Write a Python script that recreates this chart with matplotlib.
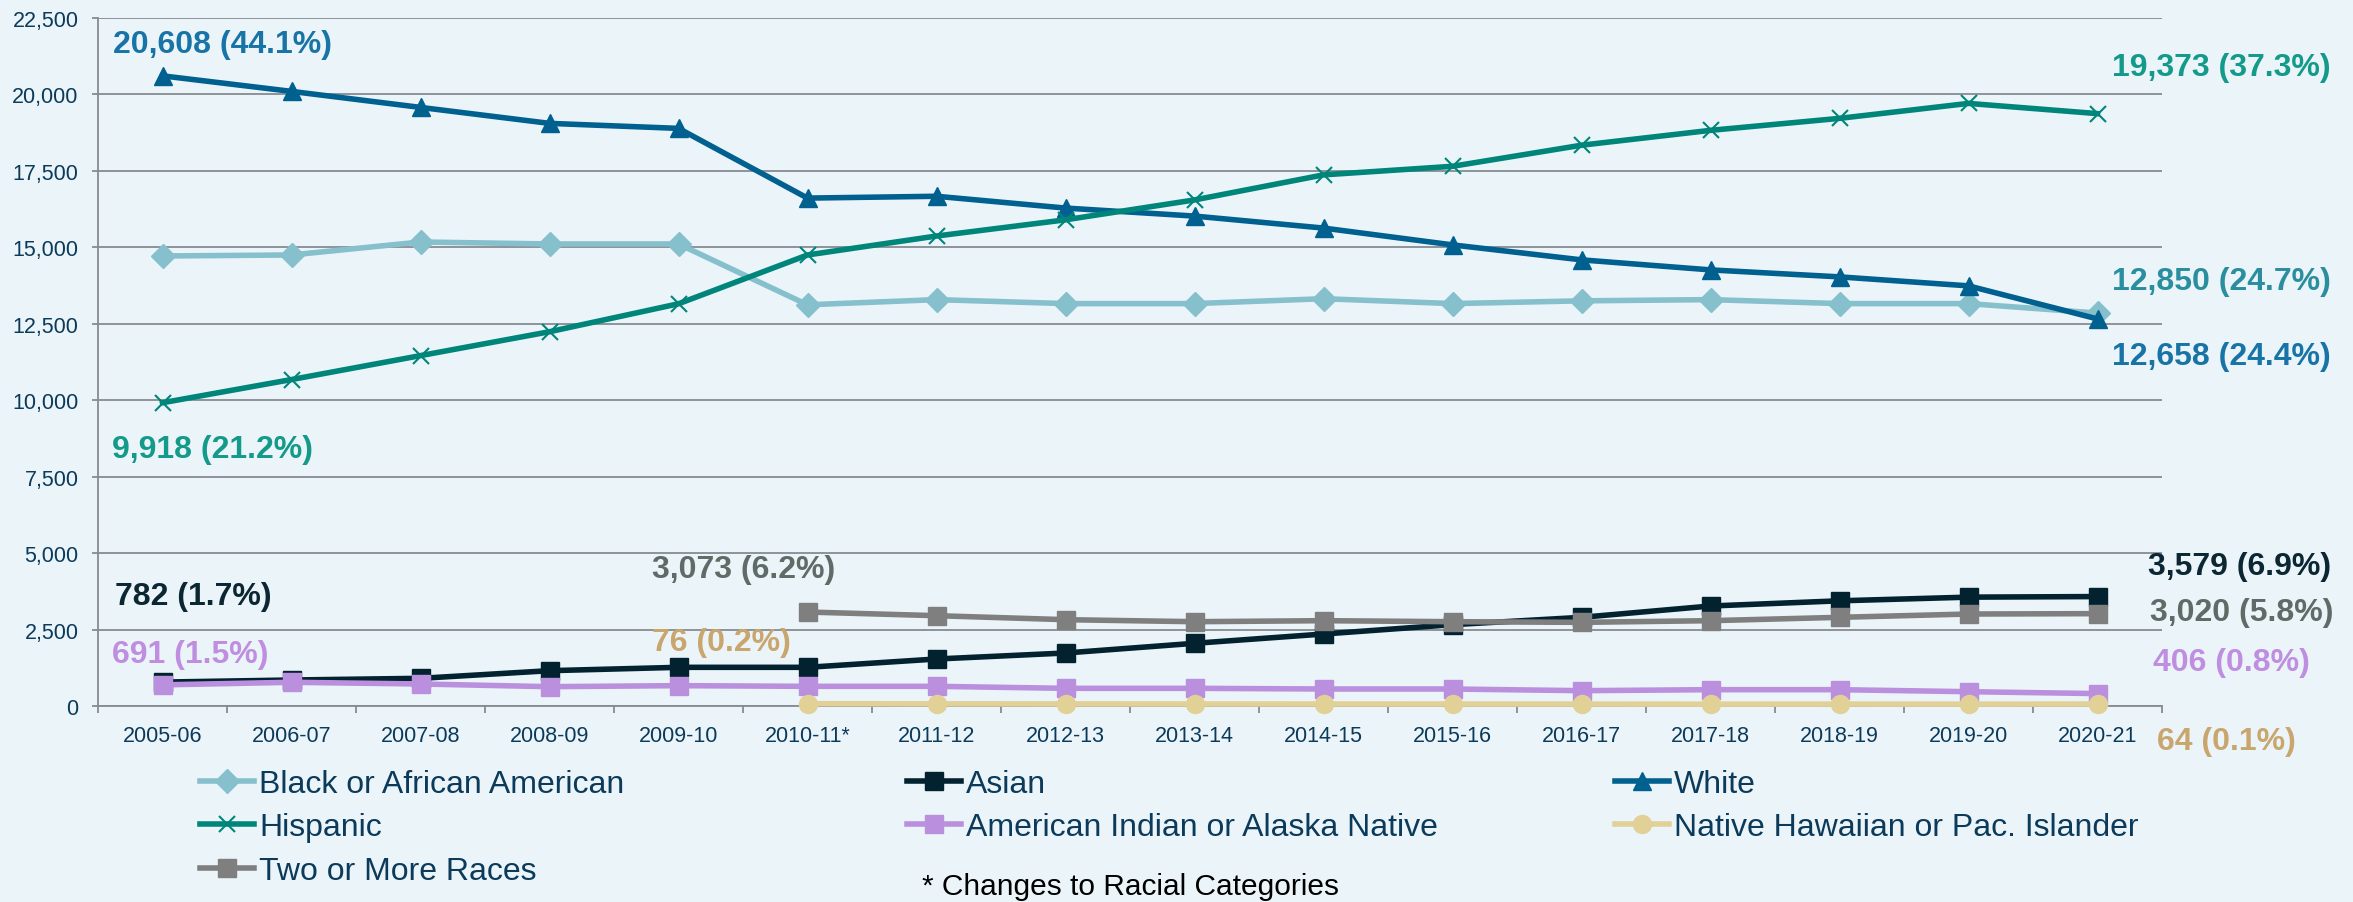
import matplotlib
matplotlib.use("Agg")
import matplotlib.pyplot as plt
from matplotlib.ticker import FixedLocator, FuncFormatter
import numpy as np

plt.rcParams['font.family'] = ['Liberation Sans', 'DejaVu Sans']

years = ['2005-06', '2006-07', '2007-08', '2008-09', '2009-10', '2010-11*',
         '2011-12', '2012-13', '2013-14', '2014-15', '2015-16', '2016-17',
         '2017-18', '2018-19', '2019-20', '2020-21']

black = [14717, 14750, 15175, 15110, 15110, 13120, 13290, 13160, 13160, 13320,
         13160, 13250, 13290, 13160, 13160, 12850]
asian = [782, 850, 905, 1155, 1265, 1265, 1537, 1733, 2050, 2354, 2660, 2900,
         3270, 3440, 3560, 3579]
white = [20608, 20100, 19576, 19054, 18890, 16610, 16670, 16284, 16022, 15630,
         15080, 14590, 14262, 14034, 13740, 12658]
hispanic = [9918, 10676, 11459, 12240, 13154, 14750, 15370, 15900, 16550, 17370,
            17650, 18340, 18826, 19218, 19707, 19373]
am_indian = [691, 775, 720, 632, 665, 643, 643, 578, 578, 556, 556, 501, 534,
             534, 468, 406]
nh_pi = [np.nan] * 5 + [76, 70, 68, 66, 65, 64, 63, 60, 62, 61, 64]
two_more = [np.nan] * 5 + [3073, 2954, 2823, 2757, 2790, 2757, 2736, 2790, 2900,
                           3008, 3020]

W, H = 2353, 903
bg = '#EBF5F9'
grid_c = '#878B93'
navy = '#0B3A5A'

fig = plt.figure(figsize=(W / 100, H / 100), dpi=100, facecolor=bg)
ax = fig.add_axes([98 / W, 1 - 707 / H, (2162 - 98) / W, (707 - 19) / H])
ax.set_facecolor(bg)

x = np.arange(len(years))
lw = 4.0
series = [
    ('Black or African American', black, '#86C0CC', 'D', 12, {}),
    ('Asian', asian, '#03222F', 's', 13, {}),
    ('White', white, '#00608F', '^', 13, {}),
    ('Hispanic', hispanic, '#00857A', 'x', 12, {'markeredgewidth': 1.5}),
    ('American Indian or Alaska Native', am_indian, '#BA90DE', 's', 13, {}),
    ('Native Hawaiian or Pac. Islander', nh_pi, '#E2D196', 'o', 13, {}),
    ('Two or More Races', two_more, '#7F7F7F', 's', 13, {}),
]
handles = {}
for name, vals, col, mk, ms, extra in series:
    h, = ax.plot(x, vals, color=col, lw=lw, marker=mk, markersize=ms,
                 markerfacecolor=col, markeredgecolor=col, label=name,
                 clip_on=False, zorder=3, **extra)
    handles[name] = h

ax.set_xlim(-0.5, len(years) - 0.5)
ax.set_ylim(0, 22500)
ax.set_yticks(np.arange(0, 22501, 2500))
ax.yaxis.set_major_formatter(FuncFormatter(lambda v, p: f'{int(v):,}'))
ax.set_xticks(x)
ax.set_xticklabels(years)
ax.xaxis.set_minor_locator(FixedLocator(np.arange(-0.5, len(years), 1)))
ax.tick_params(axis='x', which='major', length=0, pad=14, labelsize=15.5,
               labelcolor=navy)
ax.tick_params(axis='x', which='minor', length=5, width=1.3, color=grid_c)
ax.tick_params(axis='y', length=4, width=1.3, color=grid_c, pad=10,
               labelsize=15.5, labelcolor=navy)
ax.grid(axis='y', color=grid_c, lw=1.3, zorder=0)
ax.set_axisbelow(True)
for s in ['top', 'right']:
    ax.spines[s].set_visible(False)
for s in ['left', 'bottom']:
    ax.spines[s].set_color(grid_c)
    ax.spines[s].set_linewidth(1.3)

# value labels (figure pixel positions)
labels = [
    ('20,608 (44.1%)', 113, 45, '#1874A6'),
    ('9,918 (21.2%)', 112, 450, '#139A8A'),
    ('782 (1.7%)', 115, 597, '#0B2733'),
    ('691 (1.5%)', 112, 655, '#BF8EE0'),
    ('3,073 (6.2%)', 652, 570, '#5E6B66'),
    ('76 (0.2%)', 652, 643, '#C9A66E'),
    ('19,373 (37.3%)', 2112, 68, '#139A8A'),
    ('12,850 (24.7%)', 2112, 282, '#2A8E9E'),
    ('12,658 (24.4%)', 2112, 357, '#1874A6'),
    ('3,579 (6.9%)', 2148, 567, '#0B2733'),
    ('3,020 (5.8%)', 2150, 613, '#5E6B66'),
    ('406 (0.8%)', 2153, 663, '#BF8EE0'),
    ('64 (0.1%)', 2157, 742, '#C9A66E'),
]
for txt, px, py, col in labels:
    fig.text(px / W, 1 - py / H, txt, color=col, fontsize=23,
             fontweight='bold', ha='left', va='center')

# legend in three columns
cols = [
    (['Black or African American', 'Hispanic', 'Two or More Races'], 200),
    (['Asian', 'American Indian or Alaska Native'], 907),
    (['White', 'Native Hawaiian or Pac. Islander'], 1615),
]
for names, px in cols:
    leg = fig.legend([handles[n] for n in names], names, loc='upper left',
                     bbox_to_anchor=(px / W, 1 - 770 / H), frameon=False,
                     fontsize=23, handlelength=1.7, handletextpad=0.15,
                     labelspacing=0.42, borderpad=0, borderaxespad=0)
    for t in leg.get_texts():
        t.set_color(navy)

fig.text(922 / W, 1 - 887 / H, '* Changes to Racial Categories',
         fontsize=21.5, color='black', ha='left', va='center')

fig.savefig('out.png', dpi=100, facecolor=bg)
